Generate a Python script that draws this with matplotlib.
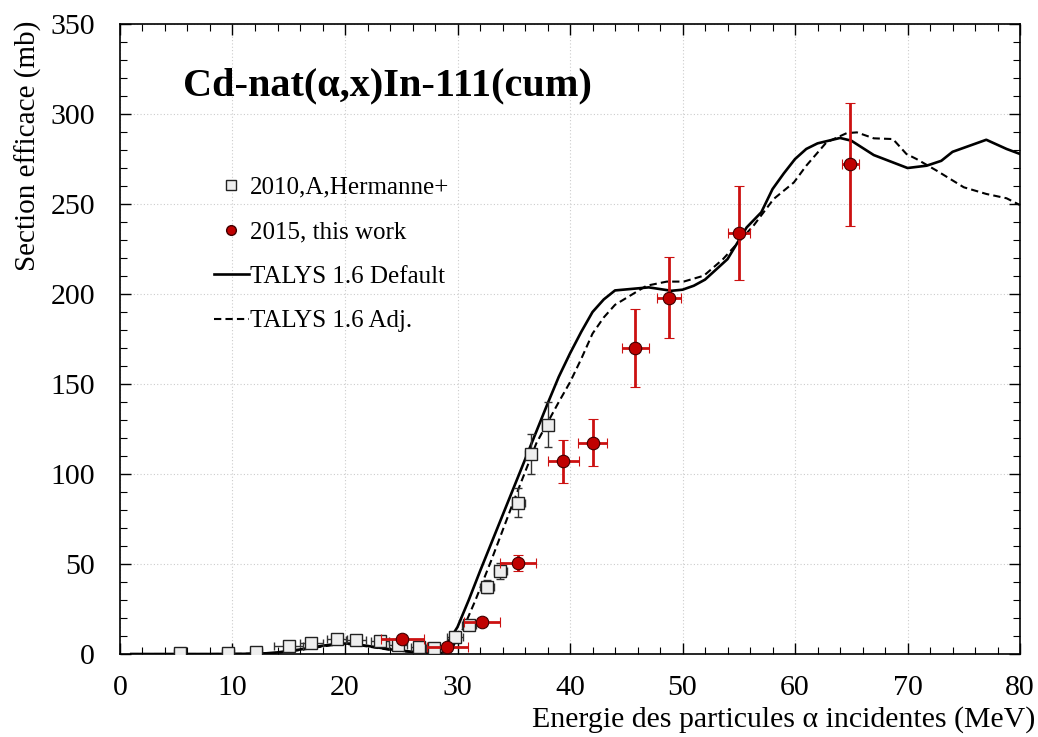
import matplotlib.pyplot as plt
from matplotlib.lines import Line2D
from matplotlib.ticker import MultipleLocator

# 2015, this work
work_e = [25.1, 29.1, 32.2, 35.4, 39.4, 42.0, 45.8, 48.8, 55.0, 64.9]
work_de = [1.9, 1.8, 1.6, 1.6, 1.4, 1.3, 1.2, 1.1, 1.0, 0.75]
work_xs = [8.5, 3.7, 18.0, 50.5, 107.0, 117.5, 170.0, 198.0, 234.0, 272.0]
work_dxs = [1.0, 0.8, 2.0, 4.5, 12.0, 13.0, 21.5, 22.5, 26.0, 34.0]

# 2010, A, Hermanne+
herm_e = [5.3, 9.6, 12.1, 15.0, 17.0, 19.3, 21.0, 23.1, 24.7, 26.6, 27.9,
          29.8, 31.0, 32.6, 33.8, 35.4, 36.5, 38.0]
herm_de = [0.5, 0.5, 0.5, 1.3, 1.0, 0.9, 0.9, 0.8, 0.8, 0.7, 0.7,
           0.7, 0.6, 0.6, 0.6, 0.6, 0.5, 0.5]
herm_xs = [0.7, 0.7, 1.1, 4.3, 5.9, 8.5, 7.6, 7.0, 5.2, 3.9, 3.5,
           9.6, 16.1, 37.4, 46.0, 84.0, 111.0, 127.5]
herm_dxs = [0.3, 0.3, 0.3, 0.5, 0.6, 0.8, 0.8, 0.7, 0.6, 0.5, 0.5,
            1.0, 1.6, 3.7, 4.6, 8.0, 11.0, 12.5]

# TALYS 1.6 Default
def_e = [1, 4, 8, 11, 13, 14, 16, 18, 19.5, 20.5, 22, 24, 26, 27, 28, 29, 30, 31,
         32, 34, 36, 38, 39, 40, 41, 42, 43, 44, 47, 49, 50, 51, 52, 54, 55.7,
         57, 58, 59, 60, 61, 62, 64, 65, 67, 70, 71.7, 73, 74, 77, 78.8, 80]
def_xs = [0, 0, 0, 0.1, 0.4, 0.9, 2.5, 4.6, 5.8, 5.8, 4.5, 2.6, 1.2, 0.8, 1.0,
          5, 15, 30, 46, 77, 108, 139, 154, 167, 179, 190, 197, 202, 203.7,
          201.8, 202.4, 204.6, 208, 219.4, 237, 245.4, 258.3, 267, 275, 280.6,
          283.7, 286.7, 285.2, 277.2, 270, 271.3, 274, 279, 285.7, 280.6, 277.8]

# TALYS 1.6 Adj.
adj_e = [1, 4, 8, 11, 13, 14, 16, 18, 19.5, 20.5, 22, 24, 26, 27, 28.5, 29.5,
         30.5, 31.6, 33, 35, 37, 39, 40, 41, 42, 43, 44, 46.8, 48.6, 50.1, 51.9,
         53.6, 56.3, 58.1, 59.9, 61, 62.8, 64.6, 65.5, 67, 68.7, 69.9, 70.8,
         72.6, 75, 77, 78.8, 80]
adj_xs = [0, 0, 0, 0.1, 0.3, 0.7, 2.2, 4.2, 5.4, 5.4, 4.2, 2.3, 1.0, 0.6, 0.5, 3,
          14, 30, 52, 85, 117, 140, 151, 164, 178, 187, 194, 204.6, 206.9,
          206.9, 210.2, 219.4, 237.9, 252.8, 262, 271.3, 284.3, 289.4, 289.8,
          286.5, 286.1, 277.8, 275, 268.5, 259.3, 255.6, 253.2, 249.4]

SERIF = ["Liberation Serif", "DejaVu Serif"]
plt.rcParams["font.family"] = SERIF

fig = plt.figure(figsize=(10.38, 7.37), dpi=100)
ax = fig.add_axes([0.1156, 0.1126, 0.8671, 0.8548])

ax.plot(def_e, def_xs, color="black", linewidth=1.9, zorder=3)
ax.plot(adj_e, adj_xs, color="black", linewidth=1.5, linestyle=(0, (3.5, 2)), zorder=3)

ax.errorbar(herm_e, herm_xs, xerr=herm_de, yerr=herm_dxs, fmt="s",
            markersize=9, markerfacecolor="#eeeeee", markeredgecolor="#222222",
            markeredgewidth=1.0, ecolor="#333333", elinewidth=1.0, capsize=3,
            capthick=1.0, zorder=4)
ax.errorbar(work_e, work_xs, xerr=work_de, yerr=work_dxs, fmt="o",
            markersize=9, markerfacecolor="#c00000", markeredgecolor="#400000",
            markeredgewidth=0.8, ecolor="#cc1111", elinewidth=2.0, capsize=3.5,
            capthick=2.0, zorder=5)

ax.set_xlim(0, 80)
ax.set_ylim(0, 350)
ax.xaxis.set_major_locator(MultipleLocator(10))
ax.xaxis.set_minor_locator(MultipleLocator(2))
ax.yaxis.set_major_locator(MultipleLocator(50))
ax.yaxis.set_minor_locator(MultipleLocator(10))
ax.tick_params(which="both", direction="in", top=True, right=True, labelsize=21.5)
ax.tick_params(axis="x", which="major", pad=15)
ax.tick_params(axis="y", which="major", pad=18)
ax.tick_params(which="major", length=8, width=1.0)
ax.tick_params(which="minor", length=5, width=0.8)
ax.grid(True, which="major", color="#cccccc", linestyle=(0, (1, 2)), linewidth=0.8)
ax.set_axisbelow(True)
for sp in ax.spines.values():
    sp.set_linewidth(1.2)

ax.set_xlabel("Energie des particules α incidentes (MeV)", fontsize=21.5, loc="right")
ax.xaxis.set_label_coords(1.017, -0.082)
ax.set_ylabel("Section efficace (mb)", fontsize=21, loc="top")
ax.yaxis.set_label_coords(-0.087, 1.006)

ax.text(0.07, 0.902, "Cd-nat(α,x)In-111(cum)", transform=ax.transAxes,
        fontsize=29, fontweight="bold", va="center", ha="left")

handles = [
    Line2D([], [], linestyle="none", marker="s", markersize=7,
           markerfacecolor="#eeeeee", markeredgecolor="#222222"),
    Line2D([], [], linestyle="none", marker="o", markersize=7,
           markerfacecolor="#c00000", markeredgecolor="#400000"),
    Line2D([], [], color="black", linewidth=1.9),
    Line2D([], [], color="black", linewidth=1.5, linestyle=(0, (3.5, 2))),
]
labels = ["2010,A,Hermanne+", "2015, this work", "TALYS 1.6 Default", "TALYS 1.6 Adj."]
ax.legend(handles, labels, loc="upper left", bbox_to_anchor=(0.093, 0.774),
          frameon=False, fontsize=18, handlelength=1.4, handletextpad=0.05,
          labelspacing=0.88, borderaxespad=0)

fig.savefig("out.png", dpi=100)
